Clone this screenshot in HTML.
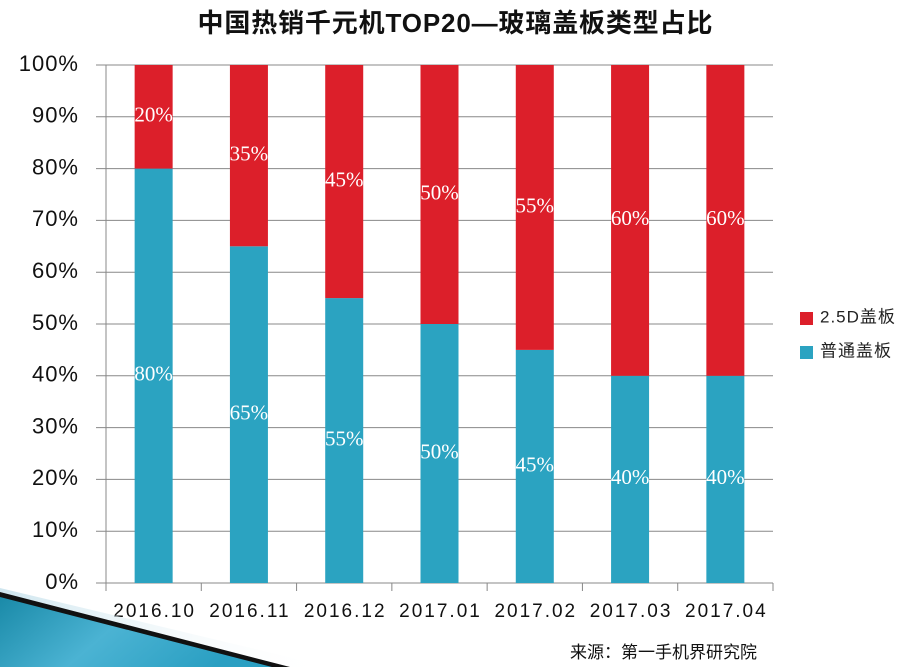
<!DOCTYPE html>
<html><head><meta charset="utf-8"><style>
body{margin:0;background:#fff;}
svg text{font-family:"Liberation Sans","Noto Sans CJK SC",sans-serif;}
svg text.serif{font-family:"Liberation Serif",serif;}
</style></head><body>
<svg width="913" height="667" viewBox="0 0 913 667" xmlns="http://www.w3.org/2000/svg">
<defs>
<linearGradient id="sw" x1="0" y1="0" x2="1" y2="0.3">
<stop offset="0" stop-color="#1a8aa8"/><stop offset="0.5" stop-color="#4bb3d3"/><stop offset="1" stop-color="#2a9fc2"/>
</linearGradient>
<linearGradient id="sw2" x1="0" y1="0" x2="1" y2="0">
<stop offset="0" stop-color="#cfe6ef"/><stop offset="1" stop-color="#ffffff" stop-opacity="0"/>
</linearGradient>
</defs>
<text x="455" y="32" text-anchor="middle" font-size="26" font-weight="bold" fill="#111" textLength="515">中国热销千元机TOP20—玻璃盖板类型占比</text>
<g id="grid"></g>
<g id="bars"></g>
<g id="labels"></g>
<g>
<rect x="800" y="312" width="13" height="13" fill="#dc1f2a"/>
<text x="820" y="318" dominant-baseline="middle" font-size="17" letter-spacing="1" fill="#222">2.5D盖板</text>
<rect x="800" y="346" width="13" height="13" fill="#2ba3c1"/>
<text x="820" y="352" dominant-baseline="middle" font-size="17" letter-spacing="1" fill="#222">普通盖板</text>
</g>
<g>
<polygon points="0,588 330,667 0,667" fill="url(#sw2)"/>
<polygon points="0,592 290,667 0,667" fill="#111"/>
<polygon points="0,597 272,667 0,667" fill="url(#sw)"/>
</g>
<text x="757" y="658" text-anchor="end" font-size="17" fill="#111">来源：第一手机界研究院</text>
<script>
const categories=["2016.10","2016.11","2016.12","2017.01","2017.02","2017.03","2017.04"];
const normalVals=[80,65,55,50,45,40,40];
const d25Vals=[20,35,45,50,55,60,60];
const yTicks=[0,10,20,30,40,50,60,70,80,90,100];
const NS="http://www.w3.org/2000/svg";
const x0=106,x1=773,yTop=65,yBot=583;
const step=(x1-x0)/categories.length;
function y(v){return yBot-(yBot-yTop)*v/100;}
function xc(i){return x0+step*(i+0.5);}
function mk(tag,attrs,parent){const e=document.createElementNS(NS,tag);for(const k in attrs)e.setAttribute(k,attrs[k]);document.getElementById(parent).appendChild(e);return e;}
yTicks.forEach(t=>{
 const l=mk('line',{x1:96,x2:x1,y1:y(t),y2:y(t),stroke:'#888','stroke-width':1},'grid');
 
 
 const tx=mk('text',{x:79,y:y(t),'text-anchor':'end','dominant-baseline':'middle','font-size':22,'letter-spacing':1,fill:'#111'},'grid');
 tx.textContent=t+'%';
 
 
});
const ax=mk('line',{x1:x0,x2:x0,y1:yTop,y2:yBot+8,stroke:'#888'},'grid');


for(let i=0;i<=categories.length;i++){
 const tk=mk('line',{x1:x0+step*i,x2:x0+step*i,y1:yBot,y2:yBot+8,stroke:'#888'},'grid');
 
 
}
const bw=38;
categories.forEach((c,i)=>{
 const cx=xc(i);
 const b1=mk('rect',{x:cx-bw/2,y:y(normalVals[i]),width:bw,height:yBot-y(normalVals[i]),fill:'#2ba3c1'},'bars');
 
 
 const top=normalVals[i]+d25Vals[i];
 const b2=mk('rect',{x:cx-bw/2,y:y(top),width:bw,height:y(normalVals[i])-y(top),fill:'#dc1f2a'},'bars');
 
 
 const l1=mk('text',{x:cx,y:y(normalVals[i]/2),'text-anchor':'middle','dominant-baseline':'middle','font-size':21,fill:'#fff','class':'serif'},'labels');
 l1.textContent=normalVals[i]+'%';
 
 
 const l2=mk('text',{x:cx,y:y(normalVals[i]+d25Vals[i]/2),'text-anchor':'middle','dominant-baseline':'middle','font-size':21,fill:'#fff','class':'serif'},'labels');
 l2.textContent=d25Vals[i]+'%';
 
 
 const xl=mk('text',{x:cx+1,y:612,'text-anchor':'middle','dominant-baseline':'middle','font-size':19,'letter-spacing':2,fill:'#111'},'labels');
 xl.textContent=c;
 
 
});
</script>
</svg>
</body></html>
